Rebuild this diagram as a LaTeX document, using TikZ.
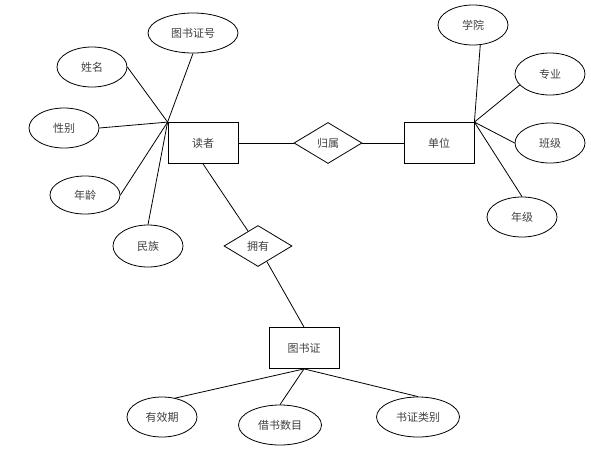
\documentclass[tikz,border=0pt]{standalone}
\usepackage{fontspec}
\newfontfamily\cjk{Noto Sans CJK SC}
\usetikzlibrary{shapes.geometric}
\begin{document}
\begin{tikzpicture}[x=1pt,y=-1pt,line width=0.8pt,
    ent/.style={draw,rectangle,minimum width=70pt,minimum height=41pt,inner sep=0pt},
    att/.style={draw,ellipse,minimum width=70pt,minimum height=40pt,inner sep=0pt},
    rel/.style={draw,diamond,minimum width=68pt,minimum height=41pt,inner sep=0pt},
    every node/.append style={font=\cjk\fontsize{11}{13}\selectfont,text=black!75}]
        \useasboundingbox (0,0) rectangle (591,450);
        \node[ent] (reader) at (203,143) {读者};
        \node[ent] (unit) at (439,143) {单位};
        \node[ent] (card) at (304,348) {图书证};
        \node[rel] (belong) at (328,143) {归属};
        \node[rel] (own) at (258,246) {拥有};
        \node[att,minimum width=90pt] (r1) at (193,33) {图书证号};
        \node[att] (r2) at (92,67) {姓名};
        \node[att] (r3) at (64,128) {性别};
        \node[att,minimum height=38pt] (r4) at (85,195) {年龄};
        \node[att,minimum height=42pt] (r5) at (148,246) {民族};
        \node[att] (u1) at (473,25) {学院};
        \node[att,minimum height=42pt] (u2) at (550,74) {专业};
        \node[att] (u3) at (550,143) {班级};
        \node[att] (u4) at (522,217) {年级};
        \node[att] (c1) at (162,417) {有效期};
        \node[att,minimum width=83pt] (c2) at (280,425) {借书数目};
        \node[att,minimum width=83pt] (c3) at (418,417) {书证类别};
        \draw (r1.south) -- (reader.north west);
        \draw (r2.east) -- (reader.north west);
        \draw (r3.east) -- (reader.north west);
        \draw (r4.east) -- (reader.north west);
        \draw (r5.north) -- (reader.north west);
        \draw (reader.east) -- (belong.west);
        \draw (belong.east) -- (unit.west);
        \draw (reader.south) -- (own);
        \draw (own) -- (card.north);
        \draw (u1.-70) -- (unit.north east);
        \draw (u2.200) -- (unit.north east);
        \draw (u3.west) -- (unit.north east);
        \draw (u4.north) -- (unit.north east);
        \draw (c1.55) -- (card.south);
        \draw (c2.north) -- (card.south);
        \draw (c3.north) -- (card.south);
\end{tikzpicture}
\end{document}
